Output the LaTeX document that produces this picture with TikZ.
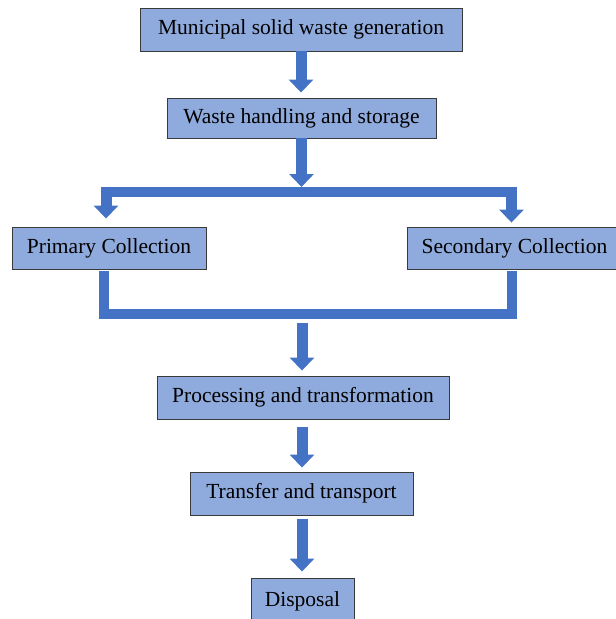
\documentclass[tikz,border=0pt]{standalone}
\usepackage{fontspec}
\setmainfont{Liberation Serif}
\usepackage{tikz}
\usetikzlibrary{positioning, arrows.meta, calc}
\definecolor{boxblue}{HTML}{8FAADC}
\definecolor{arrowblue}{HTML}{4472C4}
\definecolor{boxline}{HTML}{3A3A3A}
\tikzset{
  % --- process boxes ---
  stagebox/.style={
    draw=boxline, fill=boxblue, line width=0.9pt,
    font=\fontsize{21.5}{24}\selectfont, align=center,
    minimum height=42pt, inner sep=0pt,
  },
  % --- connectors ---
  blockarrow/.style={-{Triangle[length=13pt, width=24pt]}, draw=arrowblue,
    line width=11pt},
  flowbar/.style={draw=arrowblue, line width=10pt, line join=miter},
}

\begin{document}
\begin{tikzpicture}[x=1pt, y=-1pt]
    \useasboundingbox (0,0) rectangle (616,619);
    \clip (0,0) rectangle (616,619);
    % stages
    \node[stagebox, minimum width=322pt, minimum height=43pt] (gen) at (301,29.5) {Municipal solid waste generation};
    \node[stagebox, minimum width=269pt, minimum height=40pt] (handle) at (301.5,118) {Waste handling and storage};
    \node[stagebox, minimum width=194pt] (primary) at (109,248) {Primary Collection};
    \node[stagebox, minimum width=215pt] (secondary) at (514.5,248) {Secondary Collection};
    \node[stagebox, minimum width=292pt, minimum height=43pt] (process) at (303,397.5) {Processing and transformation};
    \node[stagebox, minimum width=223pt, minimum height=43pt] (transfer) at (301.5,493.5) {Transfer and transport};
    \node[stagebox, minimum width=103pt, minimum height=46pt] (disposal) at (302.5,601) {Disposal};
    % split and merge points
    \coordinate (topL) at (106,192);
    \coordinate (topR) at (511.5,192);
    \coordinate (botL) at (104,314);
    \coordinate (botR) at (512,314);
    \coordinate (merge) at (302,314);
    % arrows
    \draw[blockarrow, shorten >=5pt] (gen.south) -- (gen.south |- handle.north);
    \draw[blockarrow, shorten >=5pt] (handle.south) -- (handle.south |- topL);
    \draw[flowbar, line cap=rect] (topL) -- (topR);
    \draw[blockarrow, shorten >=8pt] (topL) -- (topL |- primary.north);
    \draw[blockarrow, shorten >=4pt] (topR) -- (topR |- secondary.north);
    \draw[flowbar, shorten <=2pt, shorten >=2pt] (primary.south -| botL) -- (botL) -- (botR) -- (secondary.south -| botR);
    \draw[blockarrow, shorten <=9pt, shorten >=5pt] (merge) -- (merge |- process.north);
    \draw[blockarrow, shorten <=8pt, shorten >=4pt] (merge |- process.south) -- (merge |- transfer.north);
    \draw[blockarrow, shorten <=4pt, shorten >=6pt] (merge |- transfer.south) -- (merge |- disposal.north);
  \end{tikzpicture}
\end{document}
